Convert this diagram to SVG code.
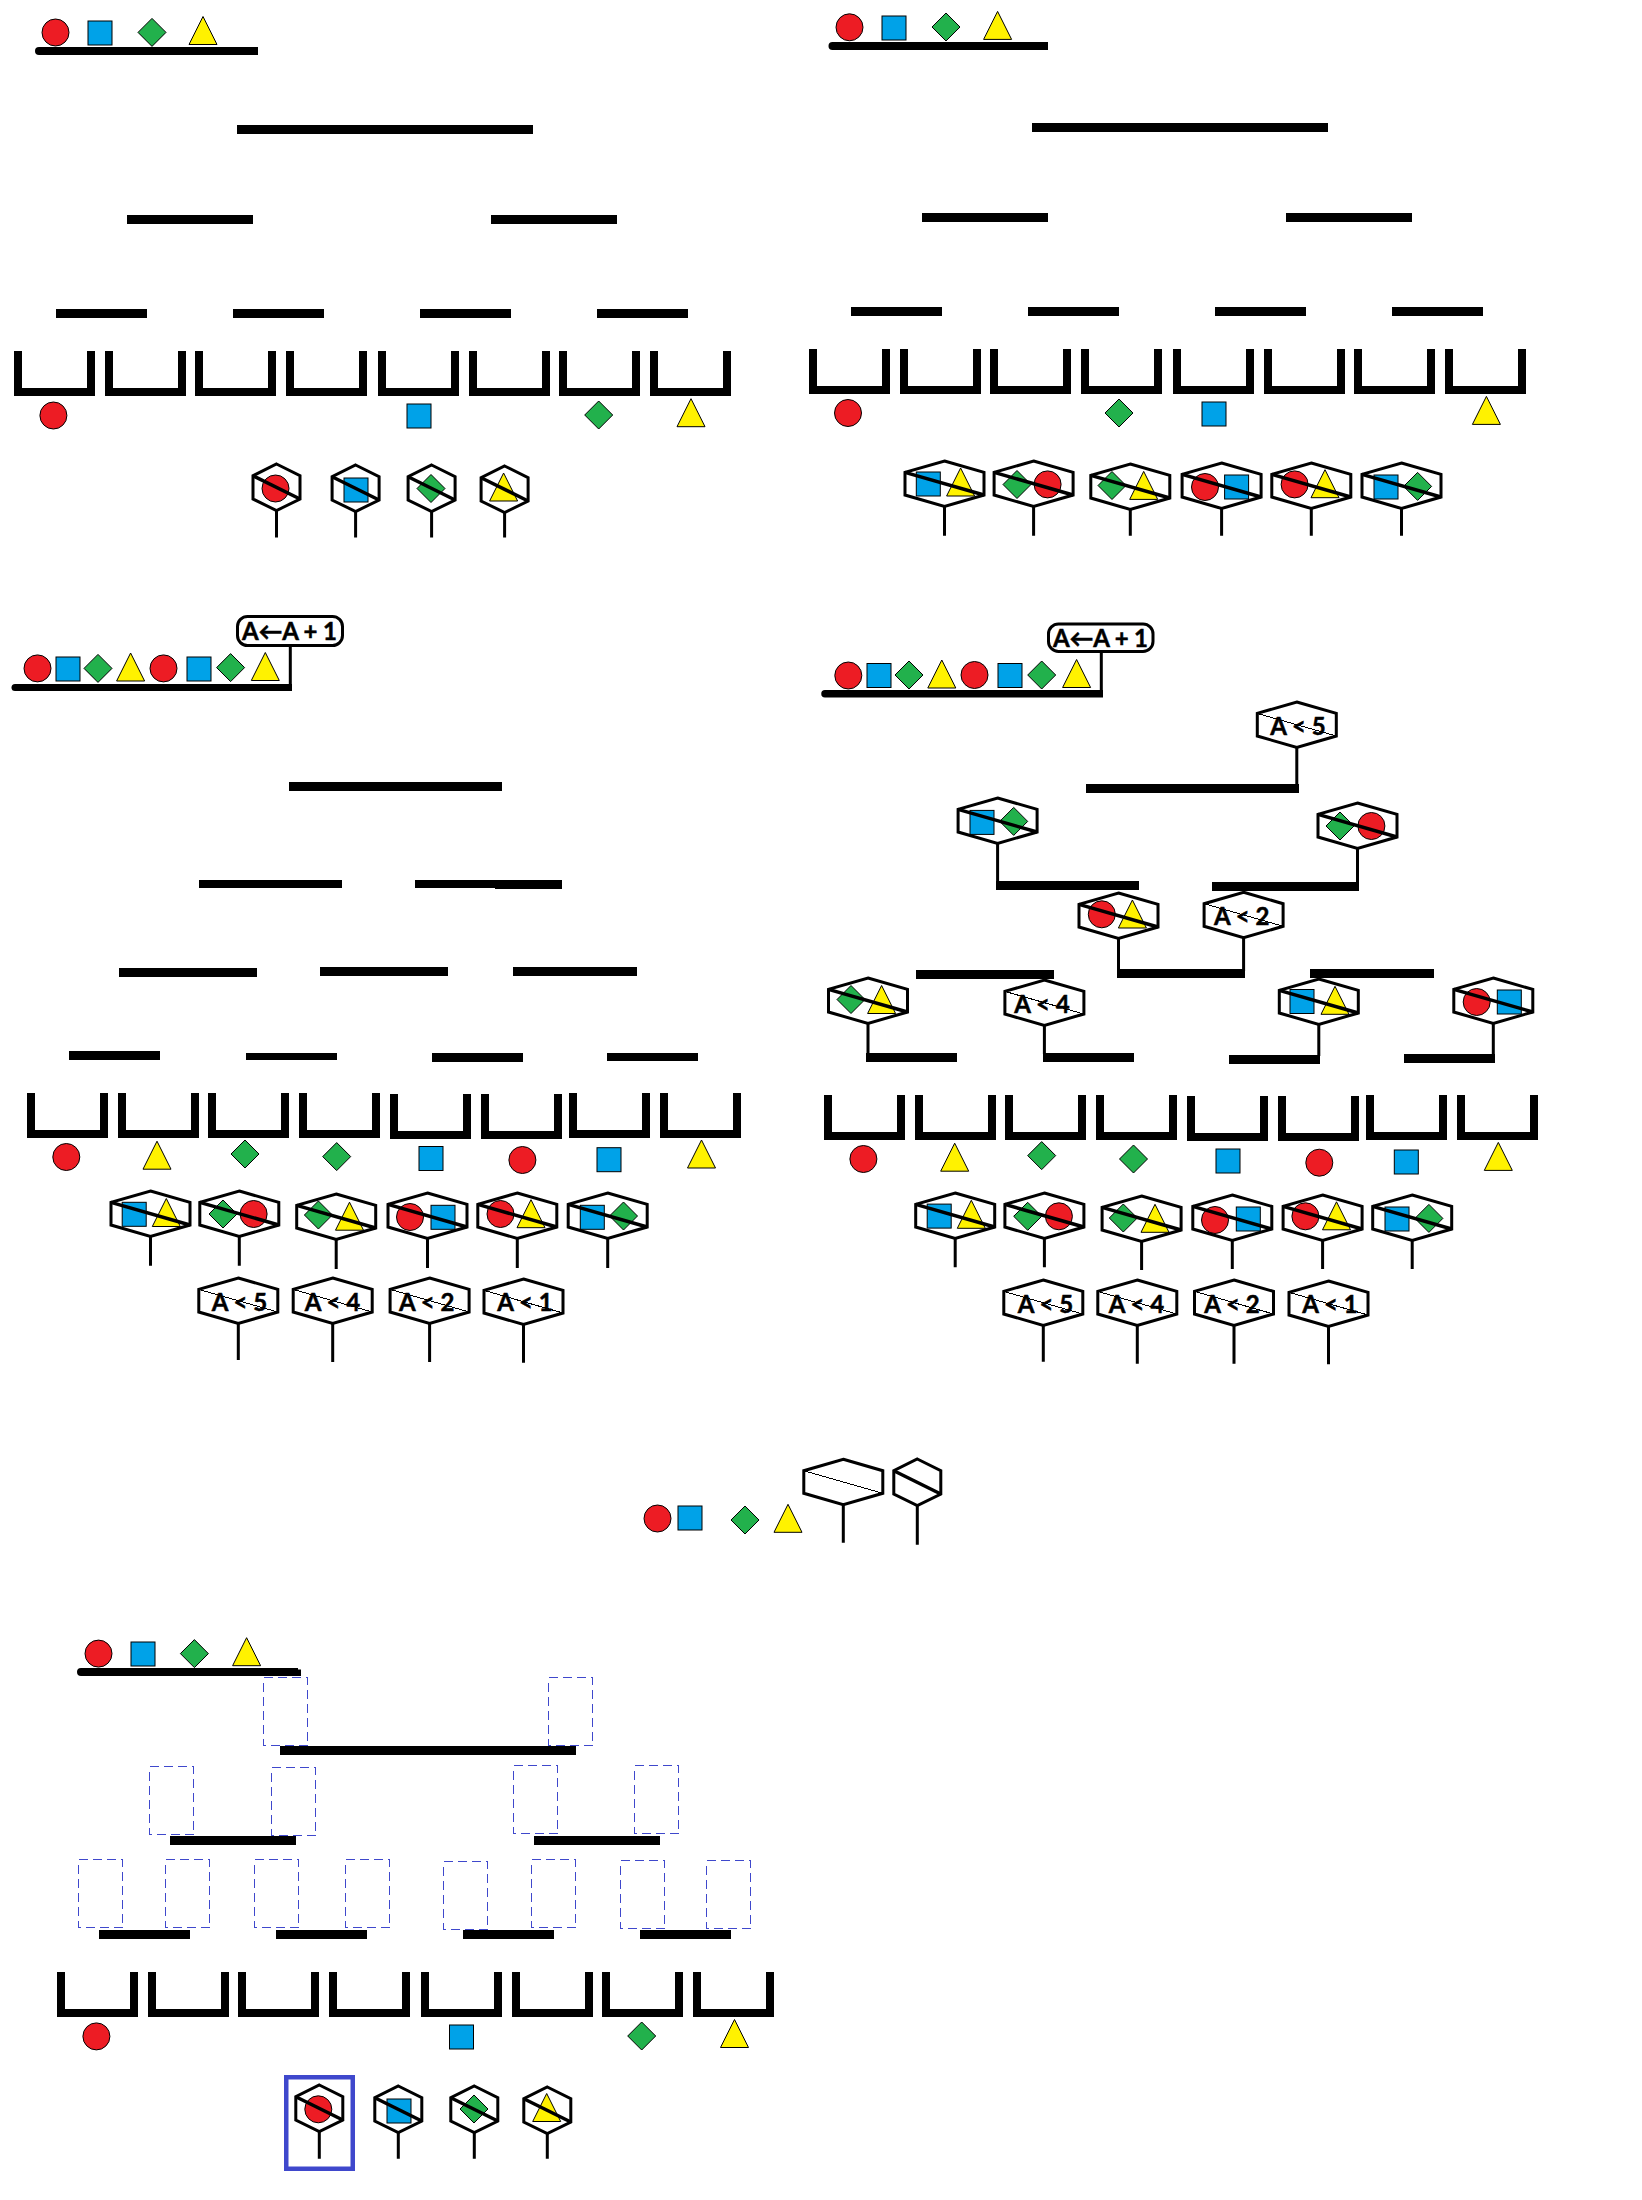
<svg xmlns="http://www.w3.org/2000/svg" width="1642" height="2200" viewBox="0 0 1642 2200">
<style>
.o{stroke:#000;stroke-width:1}
.cr{fill:#ed1c24}.sq{fill:#00a2e8}.di{fill:#22b14c}.tr{fill:#fff200}
.hx{fill:none;stroke:#000;stroke-width:3;stroke-linejoin:miter}
.dg{stroke:#000;stroke-width:3.5;fill:none}
.dt{stroke:#000;stroke-width:1;fill:none;shape-rendering:crispEdges}
.st{stroke:#000;stroke-width:3;fill:none}
.bk{fill:none;stroke:#000;stroke-width:8;stroke-linejoin:miter}
.bar{fill:#000}
.ds{fill:none;stroke:#3f48cc;stroke-width:1;stroke-dasharray:9 5;shape-rendering:crispEdges}
.lb{fill:#fff;stroke:#000;stroke-width:3}
text{font-family:"Lato","DejaVu Sans",sans-serif;font-weight:700;font-size:24px;fill:#000;stroke:#000;stroke-width:.5;text-anchor:middle}
</style>
<defs>
<circle id="c" class="cr o" r="13.5"/>
<rect id="s" class="sq o" x="-12" y="-12" width="24" height="24"/>
<polygon id="d" class="di o" points="0,-14 14,0 0,14 -14,0"/>
<polygon id="t" class="tr o" points="0,-14 14,14 -14,14"/>
<path id="b" class="bk" d="M4 0V41H77V0"/>
<g id="hn"><path class="hx" d="M0 0L23.5 11.7V35L0 46.5L-23.5 35V11.7Z"/><path class="dg" d="M-23.5 11.7L23.5 35"/></g>
<g id="hw"><path class="hx" d="M0 0L39.5 11.4V34L0 45.5L-39.5 34V11.4Z"/><path class="dg" d="M-39.5 11.4L39.5 34"/></g>
<g id="ht"><path class="hx" d="M0 0L39.5 11.4V34L0 45.5L-39.5 34V11.4Z"/><path class="dt" d="M-39.5 11.4L39.5 34"/></g>
</defs>

<g id="panel-a">
<g id="a-feed"><use href="#c" x="55.5" y="32.5"/><use href="#s" x="100" y="33"/><use href="#d" x="152" y="32.4"/><use href="#t" x="203" y="30.5"/>
<path class="bar" d="M39 47H258V55H39A4 4 0 0 1 39 47Z"/></g>
<g id="a-bars"><rect class="bar" x="237" y="125" width="296" height="9"/><rect class="bar" x="127" y="215" width="126" height="9"/><rect class="bar" x="491" y="215" width="126" height="9"/><rect class="bar" x="56" y="309" width="91" height="9"/><rect class="bar" x="233" y="309" width="91" height="9"/><rect class="bar" x="420" y="309" width="91" height="9"/><rect class="bar" x="597" y="309" width="91" height="9"/></g>
<g id="a-buckets"><use href="#b" x="14" y="351"/><use href="#b" x="105" y="351"/><use href="#b" x="195" y="351"/><use href="#b" x="286" y="351"/><use href="#b" x="378" y="351"/><use href="#b" x="469" y="351"/><use href="#b" x="559" y="351"/><use href="#b" x="650" y="351"/></g>
<g id="a-items"><use href="#c" x="53.4" y="415.5"/><use href="#s" x="419" y="416"/><use href="#d" x="598.7" y="415"/><use href="#t" x="691" y="412.7"/></g>
<g id="a-h1"><use href="#c" x="275.5" y="488.5"/><use href="#hn" x="276.5" y="464"/></g>
<g id="a-h2"><use href="#s" x="356" y="490"/><use href="#hn" x="355.6" y="465"/></g>
<g id="a-h3"><use href="#d" x="431" y="488.5"/><use href="#hn" x="431.6" y="465"/></g>
<g id="a-h4"><use href="#t" x="503.6" y="487"/><use href="#hn" x="504.6" y="466"/></g>
</g>

<g id="panel-b">
<g id="b-feed"><use href="#c" x="849.5" y="27.3"/><use href="#s" x="894" y="28"/><use href="#d" x="946" y="27"/><use href="#t" x="997.6" y="25.4"/>
<path class="bar" d="M832.500 42H1048V50H832.500A4 4 0 0 1 832.500 42Z"/></g>
<g id="b-bars"><rect class="bar" x="1032" y="123" width="296" height="9"/><rect class="bar" x="922" y="213" width="126" height="9"/><rect class="bar" x="1286" y="213" width="126" height="9"/><rect class="bar" x="851" y="307" width="91" height="9"/><rect class="bar" x="1028" y="307" width="91" height="9"/><rect class="bar" x="1215" y="307" width="91" height="9"/><rect class="bar" x="1392" y="307" width="91" height="9"/></g>
<g id="b-buckets"><use href="#b" x="809" y="349"/><use href="#b" x="900" y="349"/><use href="#b" x="990" y="349"/><use href="#b" x="1081" y="349"/><use href="#b" x="1173" y="349"/><use href="#b" x="1264" y="349"/><use href="#b" x="1354" y="349"/><use href="#b" x="1445" y="349"/></g>
<g id="b-items"><use href="#c" x="848" y="413"/><use href="#d" x="1119" y="413"/><use href="#s" x="1214" y="414"/><use href="#t" x="1486.400" y="410.400"/></g>
<g id="b-h1"><use href="#s" x="928.300" y="484"/><use href="#t" x="960.600" y="482"/><use href="#hw" x="944.500" y="461"/></g>
<g id="b-h2"><use href="#d" x="1017" y="484.500"/><use href="#c" x="1047.600" y="484.400"/><use href="#hw" x="1033.600" y="461"/></g>
<g id="b-h3"><use href="#d" x="1112" y="485.500"/><use href="#t" x="1143.700" y="485.400"/><use href="#hw" x="1130.300" y="464"/></g>
<g id="b-h4"><use href="#c" x="1205" y="487"/><use href="#s" x="1236.600" y="487"/><use href="#hw" x="1221.600" y="463"/></g>
<g id="b-h5"><use href="#c" x="1294.600" y="484.400"/><use href="#t" x="1325" y="483.700"/><use href="#hw" x="1311.300" y="463"/></g>
<g id="b-h6"><use href="#s" x="1386" y="487"/><use href="#d" x="1417.600" y="486.400"/><use href="#hw" x="1401.500" y="463"/></g>
</g>

<g id="panel-c">
<g id="c-feed"><rect class="lb" x="237.500" y="616.500" width="105" height="29" rx="10"/><text x="289.400" y="639.800" textLength="95" lengthAdjust="spacing">A←A + 1</text>
<use href="#c" x="37.500" y="668.400"/><use href="#s" x="68" y="669"/><use href="#d" x="98" y="668.400"/><use href="#t" x="130.600" y="667"/><use href="#c" x="163.500" y="668.400"/><use href="#s" x="199" y="669"/><use href="#d" x="230.600" y="667.600"/><use href="#t" x="265.300" y="666.500"/>
<path class="bar" d="M15 684H292V691H15A3.500 3.500 0 0 1 15 684Z"/></g>
<g id="c-bars"><rect class="bar" x="289" y="782" width="213" height="9"/><rect class="bar" x="199" y="880" width="143" height="8"/><rect class="bar" x="415" y="880" width="147" height="8"/><rect class="bar" x="495" y="881" width="67" height="8"/><rect class="bar" x="119" y="968" width="138" height="9"/><rect class="bar" x="320" y="967" width="128" height="9"/><rect class="bar" x="513" y="967" width="124" height="9"/><rect class="bar" x="69" y="1051" width="91" height="9"/><rect class="bar" x="246" y="1053" width="91" height="7"/><rect class="bar" x="432" y="1053" width="91" height="9"/><rect class="bar" x="607" y="1053" width="91" height="8"/></g>
<g id="c-buckets"><use href="#b" x="27" y="1093"/><use href="#b" x="118" y="1093"/><use href="#b" x="208" y="1093"/><use href="#b" x="299" y="1093"/><use href="#b" x="390" y="1094"/><use href="#b" x="481" y="1094"/><use href="#b" x="569" y="1093"/><use href="#b" x="660" y="1093"/></g>
<g id="c-items"><use href="#c" x="66.300" y="1157"/><use href="#t" x="157" y="1155.200"/><use href="#d" x="245" y="1154"/><use href="#d" x="336.700" y="1156.600"/><use href="#s" x="431" y="1158.500"/><use href="#c" x="522.400" y="1160"/><use href="#s" x="609" y="1159.700"/><use href="#t" x="701.500" y="1154"/></g>
<g id="c-h1"><use href="#s" x="134.200" y="1214.300"/><use href="#t" x="166.300" y="1212.500"/><use href="#hw" x="150.500" y="1191"/></g>
<g id="c-h2"><use href="#d" x="223" y="1214"/><use href="#c" x="253.600" y="1214"/><use href="#hw" x="239.300" y="1191"/></g>
<g id="c-h3"><use href="#d" x="318.400" y="1215"/><use href="#t" x="349.500" y="1216.200"/><use href="#hw" x="336.200" y="1194"/></g>
<g id="c-h4"><use href="#c" x="410" y="1217"/><use href="#s" x="443" y="1217.300"/><use href="#hw" x="427.500" y="1193"/></g>
<g id="c-h5"><use href="#c" x="500.500" y="1214"/><use href="#t" x="531" y="1213.700"/><use href="#hw" x="517.300" y="1193"/></g>
<g id="c-h6"><use href="#s" x="592.300" y="1217.300"/><use href="#d" x="623.500" y="1216"/><use href="#hw" x="607.700" y="1193"/></g>
<g id="c-t1"><use href="#ht" x="238.300" y="1278"/><text x="239.500" y="1310.500">A &lt; 5</text></g>
<g id="c-t2"><use href="#ht" x="332.700" y="1278"/><text x="332.500" y="1310.500">A &lt; 4</text></g>
<g id="c-t3"><use href="#ht" x="429.600" y="1278"/><text x="426.800" y="1310.500">A &lt; 2</text></g>
<g id="c-t4"><use href="#ht" x="523.500" y="1279"/><text x="525" y="1311">A &lt; 1</text></g>
</g>

<g id="panel-d">
<g id="d-feed"><rect class="lb" x="1048.500" y="623.900" width="104.500" height="27.500" rx="10"/><text x="1100.500" y="647" textLength="95" lengthAdjust="spacing">A←A + 1</text>
<use href="#c" x="848.300" y="675.500"/><use href="#s" x="879" y="675.500"/><use href="#d" x="909" y="675"/><use href="#t" x="941.800" y="674"/><use href="#c" x="974.500" y="675"/><use href="#s" x="1010" y="675.500"/><use href="#d" x="1041.700" y="675"/><use href="#t" x="1076.600" y="673.500"/>
<path class="bar" d="M825 690H1103V697.500H825A3.750 3.750 0 0 1 825 690Z"/></g>
<g id="d-bars"><rect class="bar" x="1086" y="784" width="213" height="9"/><rect class="bar" x="996" y="881" width="143" height="9"/><rect class="bar" x="1212" y="882" width="147" height="9"/><rect class="bar" x="1117" y="969" width="128" height="9"/><rect class="bar" x="916" y="970" width="138" height="9"/><rect class="bar" x="1310" y="969" width="124" height="9"/><rect class="bar" x="866" y="1053" width="91" height="9"/><rect class="bar" x="1043" y="1053" width="91" height="9"/><rect class="bar" x="1229" y="1055" width="91" height="9"/><rect class="bar" x="1404" y="1054" width="91" height="9"/></g>
<g id="d-buckets"><use href="#b" x="824" y="1095"/><use href="#b" x="915" y="1095"/><use href="#b" x="1005" y="1095"/><use href="#b" x="1096" y="1095"/><use href="#b" x="1187" y="1096"/><use href="#b" x="1278" y="1096"/><use href="#b" x="1366" y="1095"/><use href="#b" x="1457" y="1095"/></g>
<g id="d-items"><use href="#c" x="863.400" y="1159"/><use href="#t" x="954.700" y="1157.200"/><use href="#d" x="1041.700" y="1155.600"/><use href="#d" x="1133.500" y="1159"/><use href="#s" x="1228" y="1161"/><use href="#c" x="1319.300" y="1162.700"/><use href="#s" x="1406.300" y="1162"/><use href="#t" x="1498.300" y="1156.400"/></g>
<g id="d-n1"><use href="#ht" x="1296.800" y="702"/><text x="1298" y="734.500">A &lt; 5</text></g>
<g id="d-n2"><use href="#s" x="982" y="822.400"/><use href="#d" x="1013.700" y="821.400"/><use href="#hw" x="997.600" y="798"/></g>
<g id="d-n3"><use href="#d" x="1340" y="826"/><use href="#c" x="1371.400" y="826"/><use href="#hw" x="1357.500" y="803"/></g>
<g id="d-n4"><use href="#c" x="1101.800" y="914.300"/><use href="#t" x="1132.400" y="914"/><use href="#hw" x="1118.500" y="893"/></g>
<g id="d-n5"><use href="#ht" x="1243.600" y="892.300"/><text x="1241.800" y="924.800">A &lt; 2</text></g>
<g id="d-n6"><use href="#d" x="851" y="999.500"/><use href="#t" x="881.600" y="999.500"/><use href="#hw" x="868" y="978"/></g>
<g id="d-n7"><use href="#ht" x="1044.400" y="980"/><text x="1042" y="1012.500">A &lt; 4</text></g>
<g id="d-n8"><use href="#s" x="1302" y="1001.500"/><use href="#t" x="1335" y="1000.300"/><use href="#hw" x="1318.800" y="979"/></g>
<g id="d-n9"><use href="#c" x="1476.700" y="1002"/><use href="#s" x="1509.300" y="1002"/><use href="#hw" x="1493.300" y="978"/></g>
<g id="d-h1"><use href="#s" x="939.200" y="1216.100"/><use href="#t" x="971.300" y="1214.300"/><use href="#hw" x="955.200" y="1193"/></g>
<g id="d-h2"><use href="#d" x="1027.700" y="1216.300"/><use href="#c" x="1058.900" y="1216.300"/><use href="#hw" x="1044.400" y="1193"/></g>
<g id="d-h3"><use href="#d" x="1123.300" y="1218"/><use href="#t" x="1155" y="1218.300"/><use href="#hw" x="1141.600" y="1196"/></g>
<g id="d-h4"><use href="#c" x="1215" y="1220"/><use href="#s" x="1248.300" y="1219"/><use href="#hw" x="1232.300" y="1195"/></g>
<g id="d-h5"><use href="#c" x="1305.400" y="1216.300"/><use href="#t" x="1336.500" y="1215.800"/><use href="#hw" x="1322.600" y="1195"/></g>
<g id="d-h6"><use href="#s" x="1397" y="1219"/><use href="#d" x="1428.900" y="1218.400"/><use href="#hw" x="1412.200" y="1195"/></g>
<g id="d-t1"><use href="#ht" x="1043.300" y="1280"/><text x="1045.500" y="1312.500">A &lt; 5</text></g>
<g id="d-t2"><use href="#ht" x="1137.300" y="1280"/><text x="1136.500" y="1312.500">A &lt; 4</text></g>
<g id="d-t3"><use href="#ht" x="1234" y="1280"/><text x="1232" y="1312.500">A &lt; 2</text></g>
<g id="d-t4"><use href="#ht" x="1328.500" y="1281"/><text x="1330" y="1313">A &lt; 1</text></g>
</g>

<g id="legend">
<use href="#c" x="657.500" y="1518.500"/><use href="#s" x="690" y="1518"/><use href="#d" x="745" y="1520"/><use href="#t" x="788" y="1518.300"/>
<g id="legend-wide"><use href="#ht" x="843.300" y="1459.300"/></g>
<g id="legend-narrow"><use href="#hn" x="917.300" y="1459"/></g>
</g>

<g id="panel-e">
<g id="e-feed"><use href="#c" x="98.500" y="1653.600"/><use href="#s" x="143" y="1654"/><use href="#d" x="194.400" y="1653.600"/><use href="#t" x="246.600" y="1651.700"/>
<path class="bar" d="M81 1668H298V1669.500H301V1676H81A4 4 0 0 1 81 1668Z"/></g>
<g id="e-dashed"><rect class="ds" x="263.500" y="1677.500" width="44" height="68"/><rect class="ds" x="548.500" y="1677.500" width="44" height="68"/><rect class="ds" x="149.500" y="1766.500" width="44" height="68"/><rect class="ds" x="271.500" y="1767.500" width="44" height="68"/><rect class="ds" x="513.500" y="1765.500" width="44" height="68"/><rect class="ds" x="634.500" y="1765.500" width="44" height="68"/><rect class="ds" x="78.500" y="1859.500" width="44" height="68"/><rect class="ds" x="165.500" y="1859.500" width="44" height="68"/><rect class="ds" x="254.500" y="1859.500" width="44" height="68"/><rect class="ds" x="345.500" y="1859.500" width="44" height="68"/><rect class="ds" x="443.500" y="1861.500" width="44" height="68"/><rect class="ds" x="531.500" y="1859.500" width="44" height="68"/><rect class="ds" x="620.500" y="1860.500" width="44" height="68"/><rect class="ds" x="706.500" y="1860.500" width="44" height="68"/></g>
<g id="e-bars"><rect class="bar" x="280" y="1746" width="296" height="9"/><rect class="bar" x="170" y="1836" width="126" height="9"/><rect class="bar" x="534" y="1836" width="126" height="9"/><rect class="bar" x="99" y="1930" width="91" height="9"/><rect class="bar" x="276" y="1930" width="91" height="9"/><rect class="bar" x="463" y="1930" width="91" height="9"/><rect class="bar" x="640" y="1930" width="91" height="9"/></g>
<g id="e-buckets"><use href="#b" x="57" y="1972"/><use href="#b" x="148" y="1972"/><use href="#b" x="238" y="1972"/><use href="#b" x="329" y="1972"/><use href="#b" x="421" y="1972"/><use href="#b" x="512" y="1972"/><use href="#b" x="602" y="1972"/><use href="#b" x="693" y="1972"/></g>
<g id="e-items"><use href="#c" x="96.400" y="2036.400"/><use href="#s" x="461.500" y="2037"/><use href="#d" x="641.700" y="2036"/><use href="#t" x="734.500" y="2033.500"/></g>
<g id="e-h1"><rect x="286.250" y="2077.250" width="66.500" height="91.500" fill="none" stroke="#3f48cc" stroke-width="4.500"/><use href="#c" x="318.300" y="2109.300"/><use href="#hn" x="319.300" y="2085"/></g>
<g id="e-h2"><use href="#s" x="399" y="2111"/><use href="#hn" x="398.300" y="2086"/></g>
<g id="e-h3"><use href="#d" x="474" y="2109"/><use href="#hn" x="474.300" y="2086"/></g>
<g id="e-h4"><use href="#t" x="546.700" y="2107.500"/><use href="#hn" x="547.300" y="2087"/></g>
</g>

<g id="connectors">
<path class="st" d="M276.500 510.500V537.500M355.600 511.500V537.500M431.600 511.500V537.500M504.600 512.500V537.500"/>
<path class="st" d="M944.500 506.500V535.700M1033.600 506.500V535.700M1130.300 509.500V535.700M1221.600 508.500V535.700M1311.300 508.500V535.700M1401.500 508.500V535.700"/>
<path class="st" d="M290.300 646V686"/>
<path class="st" d="M150.500 1236.500V1265.800M239.300 1236.500V1265.800M336.200 1239.500V1269M427.500 1238.500V1268M517.300 1238.500V1268M607.700 1238.500V1268"/>
<path class="st" d="M238.300 1323.500V1360M332.700 1323.500V1362M429.600 1323.500V1362M523.500 1324.500V1362.800"/>
<path class="st" d="M1101.300 652V692"/>
<path class="st" d="M1296.800 747.500V784M997.600 843.500V883M1357.500 848.500V884M1118.500 938.500V971M1243.600 937.800V971M868 1023.500V1054M1044.400 1025.500V1054M1318.800 1024.500V1056M1493.300 1023.500V1055"/>
<path class="st" d="M955.200 1238.500V1267.300M1044.400 1238.500V1267.300M1141.600 1241.500V1270M1232.300 1240.500V1269M1322.600 1240.500V1269M1412.200 1240.500V1269"/>
<path class="st" d="M1043.300 1325.500V1361.700M1137.300 1325.500V1363.800M1234 1325.500V1363.800M1328.500 1326.500V1364.300"/>
<path class="st" d="M843.300 1504.800V1542.700M917.300 1505.500V1544.700"/>
<path class="st" d="M319.300 2131.500V2158.700M398.300 2132.500V2158.700M474.300 2132.500V2158.700M547.300 2133.500V2158.700"/>
</g>
</svg>
